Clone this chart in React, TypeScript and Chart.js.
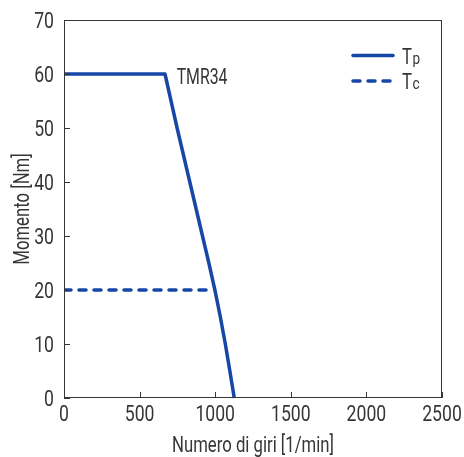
import React, { useEffect, useRef } from "react";
import { Chart, registerables } from "chart.js";
Chart.register(...registerables);

const speedTp = [0, 668, 708, 748, 790, 832, 874, 916, 958, 998, 1034, 1067, 1097, 1126];
const torqueTp = [60, 60, 55, 50, 45, 40, 35, 30, 25, 20, 15, 10, 5, 0];
const speedTc = [0, 990];
const torqueTc = [20, 20];
const xTickValues = [0, 500, 1000, 1500, 2000, 2500];
const yTickValues = [0, 10, 20, 30, 40, 50, 60, 70];
const seriesNames = ["T", "T"];
const seriesSubs = ["p", "c"];
const curveLabel = "TMR34";
const xTitle = "Numero di giri [1/min]";
const yTitle = "Momento [Nm]";

const BLUE = "#1747a6";
const INK = "#363636";
const FONT = "Roboto, 'Liberation Sans', sans-serif";
const SIZE = 22;

function drawText(ctx: any, text: string, x: number, y: number, align: "left" | "center" | "right", sx: number, size = SIZE, rot = 0) {
  ctx.save();
  ctx.font = `${size}px ${FONT}`;
  ctx.fillStyle = INK;
  ctx.textBaseline = "alphabetic";
  ctx.textAlign = align;
  ctx.translate(x, y);
  if (rot) ctx.rotate(rot);
  ctx.scale(sx, 1);
  ctx.fillText(text, 0, 0);
  ctx.restore();
}

const framePlugin = {
  id: "frame",
  afterDatasetsDraw(chart: any) {
    const { ctx, chartArea: a, scales } = chart;
    const xs = scales.x, ys = scales.y;
    ctx.save();
    ctx.strokeStyle = INK;
    ctx.lineWidth = 1;
    ctx.strokeRect(a.left + 0.5, a.top + 0.5, a.right - a.left - 1, a.bottom - a.top - 1);
    ctx.beginPath();
    for (const v of xTickValues) {
      const px = Math.round(xs.getPixelForValue(v)) + 0.5;
      ctx.moveTo(px, a.bottom);
      ctx.lineTo(px, a.bottom - 6);
    }
    for (const v of yTickValues) {
      const py = Math.round(ys.getPixelForValue(v)) + 0.5;
      ctx.moveTo(a.left, py);
      ctx.lineTo(a.left + 6, py);
    }
    ctx.stroke();
    ctx.restore();

    // tick labels
    for (const v of xTickValues) {
      drawText(ctx, String(v), xs.getPixelForValue(v), a.bottom + 23, "center", 0.8);
    }
    for (const v of yTickValues) {
      drawText(ctx, String(v), a.left - 10, ys.getPixelForValue(v) + 8, "right", 0.8);
    }
    // axis titles
    drawText(ctx, xTitle, (a.left + a.right) / 2, a.bottom + 54, "center", 0.76);
    drawText(ctx, yTitle, 29, (a.top + a.bottom) / 2, "center", 0.76, SIZE, -Math.PI / 2);

    // curve label
    drawText(ctx, curveLabel, xs.getPixelForValue(745), ys.getPixelForValue(58.2), "left", 0.72);

    // legend
    const rows = [55.5, 81];
    ctx.save();
    ctx.strokeStyle = BLUE;
    ctx.lineWidth = 3.5;
    ctx.lineCap = "round";
    rows.forEach((y, i) => {
      ctx.setLineDash(i === 0 ? [] : [7, 8]);
      ctx.beginPath();
      ctx.moveTo(353, y);
      ctx.lineTo(393, y);
      ctx.stroke();
    });
    ctx.restore();
    rows.forEach((y, i) => {
      drawText(ctx, seriesNames[i], 402, y + 8, "left", 0.76);
      ctx.save();
      ctx.font = `${SIZE}px ${FONT}`;
      const w = ctx.measureText(seriesNames[i]).width * 0.76;
      ctx.restore();
      drawText(ctx, seriesSubs[i], 402 + w + 0.5, y + 8, "left", 0.8, 17);
    });
  },
};

export default function App() {
  const ref = useRef<HTMLCanvasElement>(null);
  useEffect(() => {
    const chart = new Chart(ref.current!, {
      type: "line",
      data: {
        datasets: [
          {
            label: "Tp",
            data: speedTp.map((x, i) => ({ x, y: torqueTp[i] })),
            borderColor: BLUE,
            borderWidth: 3.5,
            borderJoinStyle: "round",
            pointRadius: 0,
            tension: 0,
            fill: false,
            clip: false as any,
          },
          {
            label: "Tc",
            data: speedTc.map((x, i) => ({ x, y: torqueTc[i] })),
            borderColor: BLUE,
            borderWidth: 3.5,
            borderDash: [7, 8],
            borderCapStyle: "round",
            pointRadius: 0,
            tension: 0,
            fill: false,
          },
        ],
      },
      options: {
        animation: false,
        responsive: false,
        maintainAspectRatio: false,
        layout: { padding: { top: 20, right: 22, left: 0, bottom: 0 } },
        plugins: { legend: { display: false }, tooltip: { enabled: false } },
        scales: {
          x: {
            type: "linear",
            min: 0,
            max: 2500,
            afterFit: (s: any) => { s.height = 59; s.paddingLeft = 0; s.paddingRight = 0; },
            grid: { display: false, drawTicks: false },
            border: { display: false },
            ticks: { display: false },
          },
          y: {
            type: "linear",
            min: 0,
            max: 70,
            afterFit: (s: any) => { s.width = 64; s.paddingTop = 0; s.paddingBottom = 0; },
            grid: { display: false, drawTicks: false },
            border: { display: false },
            ticks: { display: false },
          },
        },
      },
      plugins: [framePlugin],
    });
    return () => chart.destroy();
  }, []);
  return (
    <div style={{ position: "absolute", left: 0, top: 0, width: 464, height: 457, background: "#fff" }}>
      <canvas ref={ref} width={464} height={457} style={{ width: 464, height: 457, display: "block" }} />
    </div>
  );
}
